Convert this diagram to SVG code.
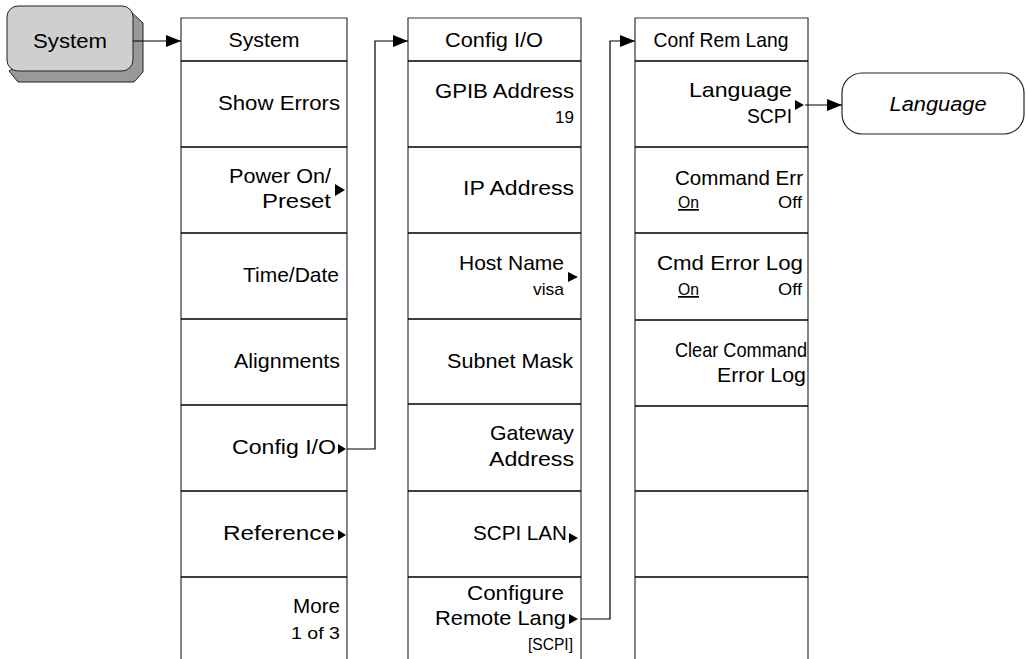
<svg xmlns="http://www.w3.org/2000/svg" width="1026" height="659" viewBox="0 0 1026 659">
<defs>
<style>
.t{font-family:"Liberation Sans",Arial,sans-serif;font-size:21px;fill:#000}
.e{text-anchor:end}
.m{text-anchor:middle}
.s{font-family:"Liberation Sans",Arial,sans-serif;font-size:17px;fill:#000}
.col{fill:none;stroke:#333;stroke-width:1.2}
.div{stroke:#000;stroke-width:1.3}
.con{fill:none;stroke:#000;stroke-width:1.2}
.tri{fill:#000}
</style>
<marker id="ah" markerWidth="16" markerHeight="12" refX="15" refY="6" orient="auto" markerUnits="userSpaceOnUse">
<path d="M0,0 L15,6 L0,12 Z" fill="#000"/>
</marker>
</defs>
<rect width="1026" height="659" fill="#fff"/>

<g id="system-key">
<path d="M128,9 L143,23 L143,72 L134,82 L18,82 L9,71 Z" fill="#999" stroke="#222" stroke-width="1"/>
<rect x="7" y="6" width="126" height="65" rx="11" fill="#cfcfcf" stroke="#222" stroke-width="1"/>
<text class="t m" x="70" y="48" textLength="74" lengthAdjust="spacingAndGlyphs">System</text>
</g>

<g id="menu-system">
<path class="col" d="M181,659 V18 H347 V659"/>
<line class="div" x1="181" y1="61" x2="347" y2="61"/>
<line class="div" x1="181" y1="147" x2="347" y2="147"/>
<line class="div" x1="181" y1="233" x2="347" y2="233"/>
<line class="div" x1="181" y1="319" x2="347" y2="319"/>
<line class="div" x1="181" y1="405" x2="347" y2="405"/>
<line class="div" x1="181" y1="491" x2="347" y2="491"/>
<line class="div" x1="181" y1="577" x2="347" y2="577"/>
<text class="t m" x="264" y="47" textLength="71" lengthAdjust="spacingAndGlyphs">System</text>
<text class="t e" x="340" y="110" textLength="122" lengthAdjust="spacingAndGlyphs">Show Errors</text>
<text class="t e" x="331" y="183" textLength="102" lengthAdjust="spacingAndGlyphs">Power On/</text>
<text class="t e" x="331" y="208" textLength="69" lengthAdjust="spacingAndGlyphs">Preset</text>
<path class="tri" d="M335,184 L345,190 L335,196 Z"/>
<text class="t e" x="339" y="282" textLength="96" lengthAdjust="spacingAndGlyphs">Time/Date</text>
<text class="t e" x="340" y="368" textLength="106" lengthAdjust="spacingAndGlyphs">Alignments</text>
<text class="t e" x="336" y="454" textLength="104" lengthAdjust="spacingAndGlyphs">Config I/O</text>
<path class="tri" d="M338,444 L346,449 L338,454 Z"/>
<text class="t e" x="335" y="540" textLength="112" lengthAdjust="spacingAndGlyphs">Reference</text>
<path class="tri" d="M338,530 L346,535 L338,540 Z"/>
<text class="t e" x="340" y="613" textLength="47" lengthAdjust="spacingAndGlyphs">More</text>
<text class="s e" x="340" y="639" textLength="49" lengthAdjust="spacingAndGlyphs">1 of 3</text>
</g>

<g id="menu-config-io">
<path class="col" d="M408,659 V18 H581 V659"/>
<line class="div" x1="408" y1="61" x2="581" y2="61"/>
<line class="div" x1="408" y1="147" x2="581" y2="147"/>
<line class="div" x1="408" y1="233" x2="581" y2="233"/>
<line class="div" x1="408" y1="319" x2="581" y2="319"/>
<line class="div" x1="408" y1="404" x2="581" y2="404"/>
<line class="div" x1="408" y1="491" x2="581" y2="491"/>
<line class="div" x1="408" y1="577" x2="581" y2="577"/>
<text class="t m" x="494" y="47" textLength="98" lengthAdjust="spacingAndGlyphs">Config I/O</text>
<text class="t e" x="574" y="98" textLength="139" lengthAdjust="spacingAndGlyphs">GPIB Address</text>
<text class="s e" x="574" y="123">19</text>
<text class="t e" x="574" y="195" textLength="111" lengthAdjust="spacingAndGlyphs">IP Address</text>
<text class="t e" x="564" y="270" textLength="105" lengthAdjust="spacingAndGlyphs">Host Name</text>
<path class="tri" d="M568,272 L578,277 L568,282 Z"/>
<text class="s e" x="564" y="295" textLength="31" lengthAdjust="spacingAndGlyphs">visa</text>
<text class="t e" x="573" y="368" textLength="126" lengthAdjust="spacingAndGlyphs">Subnet Mask</text>
<text class="t e" x="574" y="440" textLength="84" lengthAdjust="spacingAndGlyphs">Gateway</text>
<text class="t e" x="574" y="466" textLength="85" lengthAdjust="spacingAndGlyphs">Address</text>
<text class="t e" x="567" y="540" textLength="94" lengthAdjust="spacingAndGlyphs">SCPI LAN</text>
<path class="tri" d="M569,533 L578,538 L569,543 Z"/>
<text class="t e" x="564" y="600" textLength="97" lengthAdjust="spacingAndGlyphs">Configure</text>
<text class="t e" x="566" y="625" textLength="131" lengthAdjust="spacingAndGlyphs">Remote Lang</text>
<path class="tri" d="M569,614 L578,619 L569,624 Z"/>
<text class="s e" x="573" y="650" textLength="45" lengthAdjust="spacingAndGlyphs" fill="#333">[SCPI]</text>
</g>

<g id="menu-conf-rem-lang">
<path class="col" d="M635,659 V18 H808 V659"/>
<line class="div" x1="635" y1="61" x2="808" y2="61"/>
<line class="div" x1="635" y1="147" x2="808" y2="147"/>
<line class="div" x1="635" y1="233" x2="808" y2="233"/>
<line class="div" x1="635" y1="320" x2="808" y2="320"/>
<line class="div" x1="635" y1="406" x2="808" y2="406"/>
<line class="div" x1="635" y1="491" x2="808" y2="491"/>
<line class="div" x1="635" y1="577" x2="808" y2="577"/>
<text class="t m" x="721" y="47" textLength="135" lengthAdjust="spacingAndGlyphs">Conf Rem Lang</text>
<text class="t e" x="792" y="97" textLength="103" lengthAdjust="spacingAndGlyphs">Language</text>
<text class="t e" x="792" y="123" textLength="45" lengthAdjust="spacingAndGlyphs">SCPI</text>
<path class="tri" d="M795,100 L804,105 L795,110 Z"/>
<text class="t e" x="803" y="185" textLength="128" lengthAdjust="spacingAndGlyphs">Command Err</text>
<text class="s" x="678" y="208" text-decoration="underline" textLength="21" lengthAdjust="spacingAndGlyphs">On</text>
<text class="s e" x="802" y="208" textLength="24" lengthAdjust="spacingAndGlyphs">Off</text>
<text class="t e" x="803" y="270" textLength="146" lengthAdjust="spacingAndGlyphs">Cmd Error Log</text>
<text class="s" x="678" y="295" text-decoration="underline" textLength="21" lengthAdjust="spacingAndGlyphs">On</text>
<text class="s e" x="802" y="295" textLength="24" lengthAdjust="spacingAndGlyphs">Off</text>
<text class="t e" x="807" y="357" textLength="132" lengthAdjust="spacingAndGlyphs">Clear Command</text>
<text class="t e" x="806" y="382" textLength="89" lengthAdjust="spacingAndGlyphs">Error Log</text>
</g>

<g id="language-node">
<rect x="842" y="73" width="182" height="61" rx="20" fill="#fff" stroke="#222" stroke-width="1.2"/>
<text x="938" y="111" text-anchor="middle" textLength="97" lengthAdjust="spacingAndGlyphs" style="font-family:'Liberation Sans',Arial,sans-serif;font-size:20px;font-style:italic">Language</text>
</g>

<g id="connectors">
<line class="con" x1="133" y1="41" x2="181" y2="41" marker-end="url(#ah)"/>
<path class="con" d="M347,449 H375 V41 H408" marker-end="url(#ah)"/>
<path class="con" d="M581,619 H610 V41 H635" marker-end="url(#ah)"/>
<line class="con" x1="805" y1="105" x2="842" y2="105" marker-end="url(#ah)"/>
</g>
</svg>
